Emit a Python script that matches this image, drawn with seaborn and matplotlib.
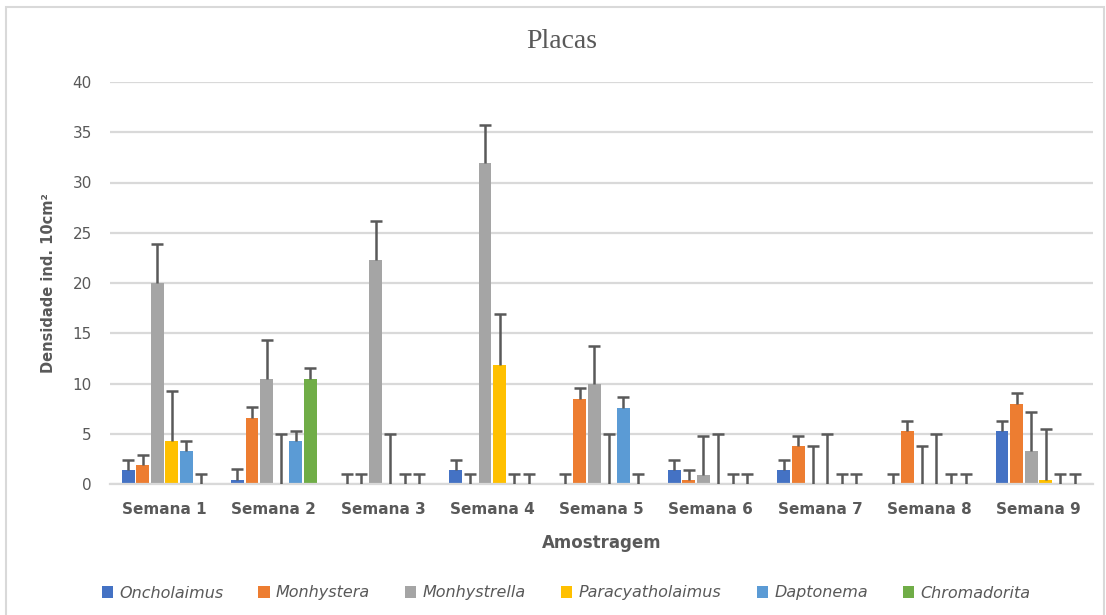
import matplotlib
matplotlib.use("Agg")
import matplotlib.pyplot as plt
from matplotlib.patches import Rectangle
import numpy as np
import pandas as pd
import seaborn as sns

semanas = ["Semana 1", "Semana 2", "Semana 3", "Semana 4", "Semana 5",
           "Semana 6", "Semana 7", "Semana 8", "Semana 9"]
generos = ["Oncholaimus", "Monhystera", "Monhystrella",
           "Paracyatholaimus", "Daptonema", "Chromadorita"]
cores = ["#4472C4", "#ED7D31", "#A5A5A5", "#FFC000", "#5B9BD5", "#70AD47"]

# densidade media por genero (uma entrada por semana)
oncholaimus = [1.4, 0.4, 0, 1.4, 0, 1.4, 1.4, 0, 5.25]
monhystera = [1.9, 6.6, 0, 0, 8.5, 0.4, 3.8, 5.25, 8.0]
monhystrella = [20.0, 10.45, 22.3, 31.9, 9.95, 0.9, 0, 0, 3.3]
paracyatholaimus = [4.3, 0, 0, 11.85, 0, 0, 0, 0, 0.4]
daptonema = [3.3, 4.3, 0, 0, 7.6, 0, 0, 0, 0]
chromadorita = [0, 10.45, 0, 0, 0, 0, 0, 0, 0]

# erro (so para cima)
err_oncholaimus = [1.0, 1.05, 1.0, 1.0, 1.0, 1.0, 1.0, 1.0, 1.05]
err_monhystera = [1.0, 1.1, 1.0, 1.0, 1.05, 1.0, 1.0, 1.05, 1.1]
err_monhystrella = [3.9, 3.85, 3.9, 3.8, 3.75, 3.9, 3.8, 3.8, 3.85]
err_paracyatholaimus = [5.0, 5.0, 5.0, 5.05, 5.0, 5.0, 5.0, 5.0, 5.1]
err_daptonema = [1.0, 1.0, 1.0, 1.0, 1.05, 1.0, 1.0, 1.0, 1.0]
err_chromadorita = [1.0, 1.05, 1.0, 1.0, 1.0, 1.0, 1.0, 1.0, 1.0]

valores = [oncholaimus, monhystera, monhystrella, paracyatholaimus, daptonema, chromadorita]
erros = [err_oncholaimus, err_monhystera, err_monhystrella,
         err_paracyatholaimus, err_daptonema, err_chromadorita]

linhas = []
for g, vals in zip(generos, valores):
    for s, v in zip(semanas, vals):
        linhas.append({"Semana": s, "Genero": g, "Densidade": v})
df = pd.DataFrame(linhas)

cinza = "#595959"
grade = "#d9d9d9"

sns.set_style("white")
plt.rcParams['font.family'] = ['DejaVu Sans']

fig = plt.figure(figsize=(11.06, 6.15), dpi=100)
ax = fig.add_axes([110 / 1106, 1 - 484 / 615, 983 / 1106, 402 / 615])

sns.barplot(data=df, x="Semana", y="Densidade", hue="Genero",
            order=semanas, hue_order=generos, palette=cores, saturation=1,
            width=0.8, gap=0.12, errorbar=None, linewidth=0,
            legend=True, ax=ax)

# barras de erro (so a parte de cima, com tampa)
for cont, err in zip(ax.containers, erros):
    xs = np.array([b.get_x() + b.get_width() / 2 for b in cont])
    ys = np.array([b.get_height() for b in cont])
    topo = ys + np.array(err)
    ax.vlines(xs, ys, topo, color=cinza, linewidth=1.8, zorder=3)
    ax.plot(xs, topo, ls="none", marker="_", markersize=8, mew=1.8,
            color=cinza, zorder=3)

ax.set_ylim(0, 40)
ax.set_xlim(-0.5, 8.5)
ax.set_yticks(range(0, 41, 5))
ax.yaxis.grid(True, color=grade, linewidth=1.6)
ax.set_axisbelow(True)
for side in ["top", "right", "left"]:
    ax.spines[side].set_visible(False)
ax.spines["bottom"].set_color(grade)
ax.spines["bottom"].set_linewidth(1.6)
ax.tick_params(axis="both", length=0, colors=cinza, labelsize=11)
ax.tick_params(axis="x", pad=13)
ax.tick_params(axis="y", pad=13)
for lab in ax.get_xticklabels():
    lab.set_fontweight("bold")

ax.set_xlabel("Amostragem", fontsize=12, fontweight="bold", color=cinza, labelpad=12)
ax.set_ylabel("Densidade ind. 10cm²", fontsize=10.5, fontweight="bold", color=cinza, labelpad=12)

fig.text(562 / 1106, 1 - 42 / 615, "Placas", ha="center", va="center",
         fontsize=20, color=cinza, family="Liberation Serif")

leg = ax.legend(loc="center", bbox_to_anchor=(566 / 1106, 1 - 593 / 615),
                bbox_transform=fig.transFigure, ncol=6, frameon=False,
                handlelength=0.7, handleheight=0.7, handletextpad=0.4,
                columnspacing=2.2, prop={"style": "italic", "size": 11.5})
for t in leg.get_texts():
    t.set_color(cinza)

fig.patches.append(Rectangle((6 / 1106, -0.02), 1098 / 1106, 1 - 7 / 615 + 0.02,
                             transform=fig.transFigure, fill=False,
                             edgecolor=grade, linewidth=1.5))

fig.savefig("out.png", dpi=100)
